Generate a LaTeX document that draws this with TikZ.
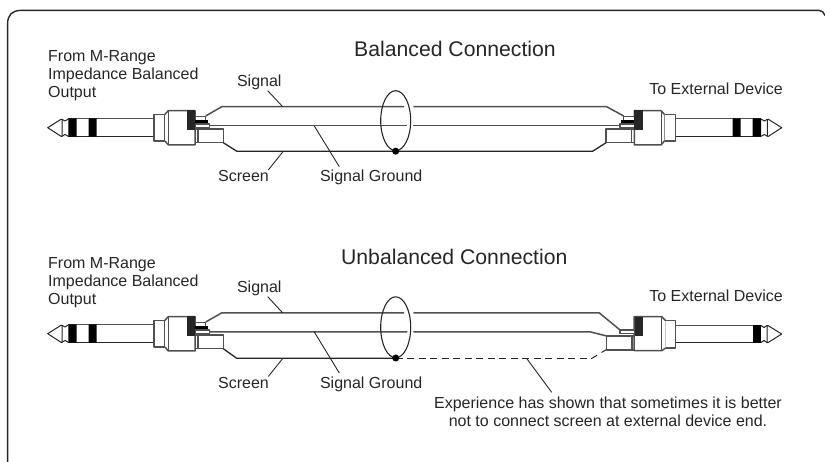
\documentclass[tikz,border=0pt]{standalone}
\usepackage{fontspec}
\setmainfont{Liberation Sans}
\definecolor{ink}{HTML}{262626}
\definecolor{wire}{HTML}{505050}
\tikzset{
  x=1pt,y=-1pt,
  lbl/.style={font=\fontsize{16}{18}\selectfont,text=ink,inner sep=0pt,anchor=base},
  lblw/.style={lbl,anchor=base west,align=left},
  ttl/.style={font=\fontsize{21.2}{25}\selectfont,text=ink,inner sep=0pt,anchor=base},
  ln/.style={draw=ink,line width=1.2pt,line join=round},
  gw/.style={draw=wire,line width=1.5pt,line join=round},
  lead/.style={draw=ink,line width=0.9pt},
  leftplug/.pic={
    \draw[ln,line width=1pt] (62,119.3)--(61,119.3)--(47.7,127.7)--(61,136.3)--(62,136.3)--cycle;
    \draw[ln,line width=1pt] (62,119.3)--(65,121)--(68.3,119) (62,136.3)--(65,134.5)--(68.3,136.3);
    \draw[gw,line width=1.2pt] (68.3,118.8)--(154,118.8);
    \draw[ln] (68.3,136.3)--(154,136.3);
    \fill[black] (68.3,118.4) rectangle (76.7,136.6) (88.7,118.4) rectangle (96.7,136.6);
    \draw[gw] (154,114.3) rectangle (165,141);
    \draw[gw,fill=white] (165,114.3)--(168.3,110.7)--(195,110.7)--(195,145)--(168.3,145)--(165,141);
    \draw[gw,line width=0.9pt] (168.3,110.7)--(168.3,145);
    \draw[gw,fill=white] (195,116.7) rectangle (205.7,121);
    \fill[black] (195,120.5) rectangle (208,123.5);
    \draw[gw,fill=white] (195,124) rectangle (209.5,127.3);
    \fill[ink] (186.7,110) rectangle (195,130);
    \draw[gw,fill=white] (198,129) rectangle (223.3,142.7);
    \draw[gw] (195.2,129)--(198,129) (195.2,142.7)--(198,142.7);
  },
}
\begin{document}
\begin{tikzpicture}
\useasboundingbox (0,0) rectangle (825,462);
\fill[white] (0,0) rectangle (825,462);
% outer frame
\draw[ln,line width=1.4pt] (7.6,462)--(7.6,24) .. controls (7.6,15) and (12,10.4) .. (21,10.4)--(819,10.4) .. controls (822,10.4) and (824,12.5) .. (825,15.5);

% ---------- balanced ----------
\pic at (0,0) {leftplug};
\pic[xscale=-1] at (829.4,0) {leftplug};
\draw[gw] (205.7,116)--(221.7,106.7)--(404,106.7) (413.3,106.7)--(606.7,106.7)--(623.7,116);
\draw[gw] (209.5,125.7)--(407.3,125.7) (413.3,125.7)--(620,125.7);
\draw[ln,line width=1.3pt] (223.3,142.7)--(236.7,151.2)--(592.7,151.2)--(606.1,142.7);
\draw[ln,line width=1.1pt] (395.7,120.7) ellipse [x radius=15,y radius=30];
\fill[black] (395.7,151.2) circle (3.5);

\node[ttl] (t1) at (455,57) {Balanced Connection};
\node[lblw] (src1) at (48,97.5) {From M-Range\\Impedance Balanced\\Output};
\node[lbl,anchor=base east] (dst1) at (783,95) {To External Device};
\node[lbl] (sig1) at (259.3,86.7) {Signal};
\node[lbl] (scr1) at (243.5,181.7) {Screen};
\node[lbl] (gnd1) at (371.2,181.7) {Signal Ground};
\coordinate (a1) at (267.7,90.7); \coordinate (b1) at (282.7,106.7);
\coordinate (c1) at (268.3,170); \coordinate (d1) at (282.7,152);
\coordinate (e1) at (339.3,166.7); \coordinate (f1) at (314.3,126);
\draw[lead] (a1)--(b1) (c1)--(d1) (e1)--(f1);

% ---------- unbalanced ----------
\pic at (0,206) {leftplug};
\draw[gw] (205.7,322)--(221.7,312.9)--(404,312.9) (413.3,312.9)--(599.3,312.9)--(620,330);
\draw[gw] (209.5,331.8)--(407.3,331.8) (413.3,331.8)--(590,331.8)--(606.7,336);
\draw[ln,line width=1.3pt] (223.3,348.7)--(236.7,358.3)--(395.7,358.3);
\draw[ln,line width=1.2pt,dash pattern=on 7pt off 4.5pt] (395.7,358.3)--(592,358.3);
\draw[ln,line width=1pt] (592,358.3)--(597,355.3) (601.5,352.5)--(606.5,349.5);
\draw[ln,line width=1.1pt] (395.7,327.3) ellipse [x radius=15,y radius=30.5];
\fill[black] (395.7,358) circle (3.5);
% right plug (single ring)
\draw[ln,line width=1pt] (767,325.6)--(768,325.6)--(781.7,334)--(768,342.6)--(767,342.6)--cycle;
\draw[ln,line width=1pt] (767,325.6)--(764,327.5)--(760.7,325.3) (767,342.6)--(764,340.5)--(760.7,342.7);
\draw[gw,line width=1.2pt] (675.3,325.3)--(752.7,325.3);
\draw[ln] (675.3,342.7)--(752.7,342.7);
\fill[black] (752.7,324.8) rectangle (760.7,343);
\draw[gw] (665.7,320.7) rectangle (675.3,348);
\draw[gw,fill=white] (665.7,320.7)--(661.7,316.7)--(634.2,316.7)--(634.2,350.7)--(661.7,350.7)--(665.7,348);
\draw[gw,line width=0.9pt] (661.7,316.7)--(661.7,350.7);
\draw[gw,fill=white] (620,330) rectangle (635,333.3);
\fill[ink] (635,316.7) rectangle (642.7,336);
\draw[gw,fill=white] (606.7,336) rectangle (632,350.2);
\draw[gw] (632,336)--(634.2,336) (632,350.2)--(634.2,350.2);

\node[ttl] (t2) at (454.3,265) {Unbalanced Connection};
\node[lblw] (src2) at (48,304.5) {From M-Range\\Impedance Balanced\\Output};
\node[lbl,anchor=base east] (dst2) at (783,302) {To External Device};
\node[lbl] (sig2) at (259.3,292.7) {Signal};
\node[lbl] (scr2) at (243.5,388.3) {Screen};
\node[lbl] (gnd2) at (371.2,388.3) {Signal Ground};
\node[lbl,align=center] (note) at (608,426) {Experience has shown that sometimes it is better\\not to connect screen at external device end.};
\coordinate (a2) at (267.7,296.7); \coordinate (b2) at (282.7,312.9);
\coordinate (c2) at (268.3,376.5); \coordinate (d2) at (282.7,358.5);
\coordinate (e2) at (339.3,373); \coordinate (f2) at (314.3,332);
\coordinate (g2) at (551.7,392.3); \coordinate (h2) at (526.7,358.5);
\draw[lead] (a2)--(b2) (c2)--(d2) (e2)--(f2) (g2)--(h2);
\end{tikzpicture}
\end{document}
